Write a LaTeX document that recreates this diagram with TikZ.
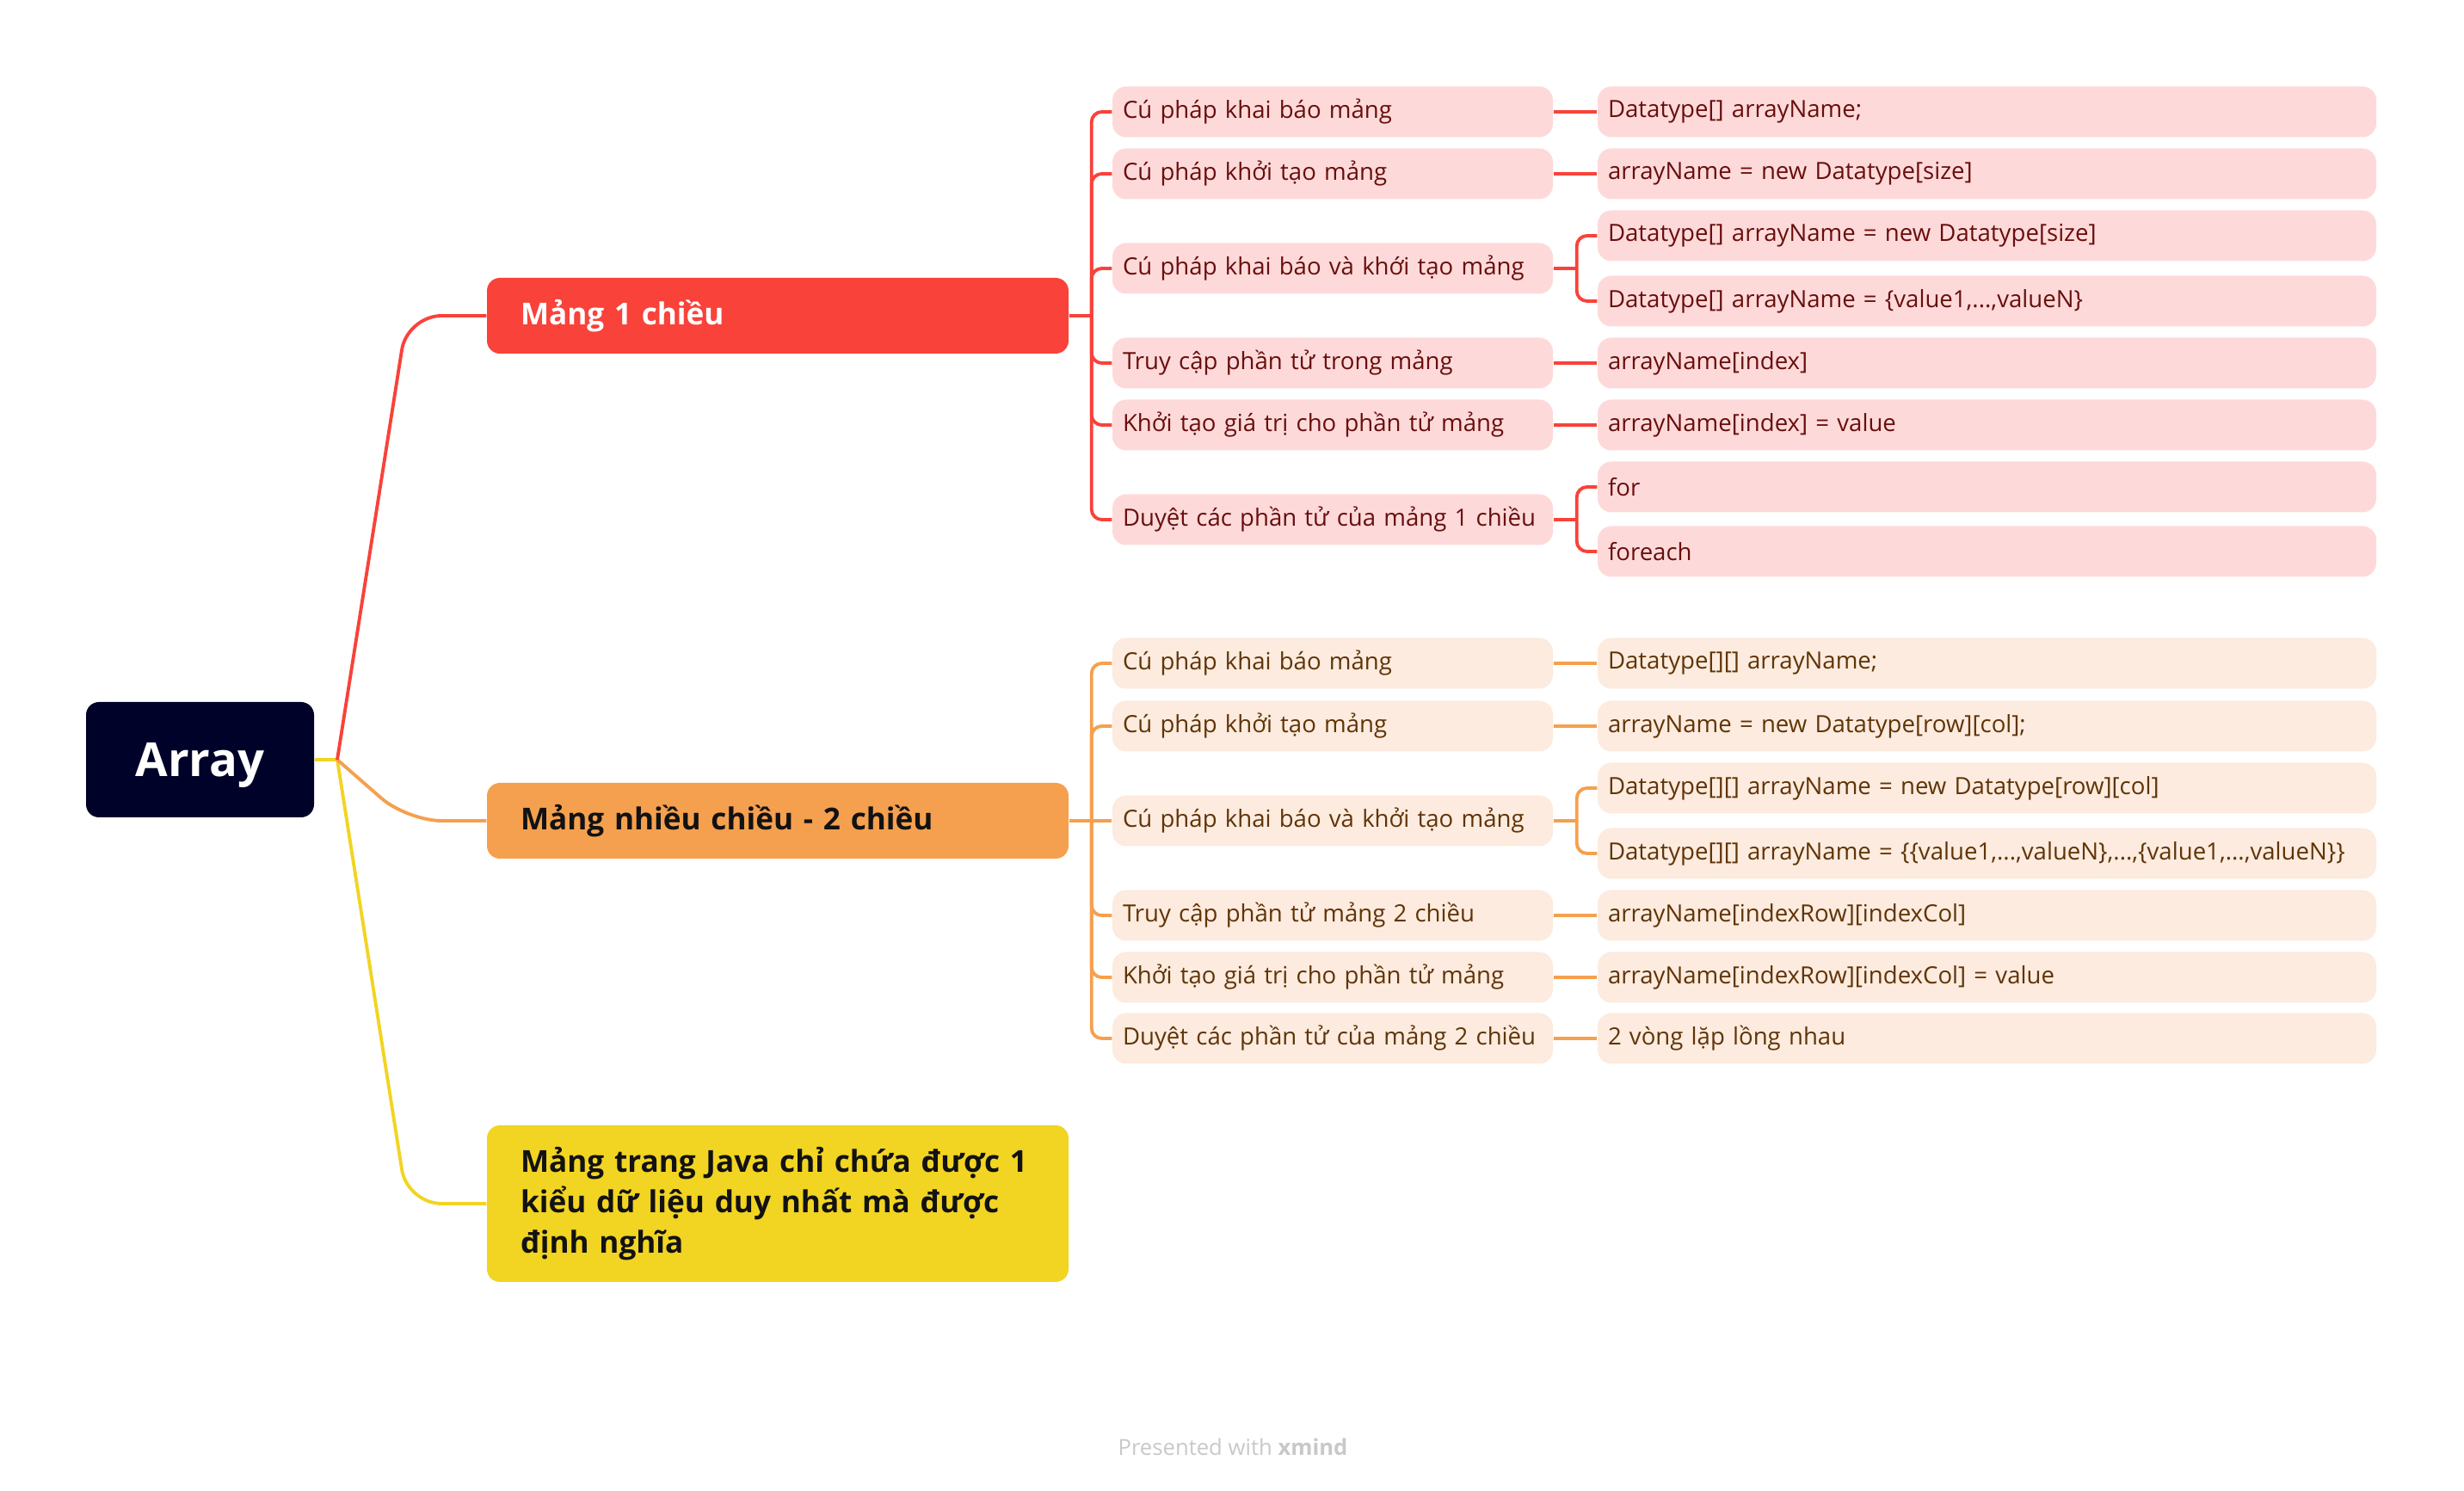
\documentclass[tikz,border=0pt]{standalone}
\usepackage{fontspec}
\setmainfont{Open Sans}
\usepackage{tikz}
\usetikzlibrary{calc}
\definecolor{rootnavy}{RGB}{0,2,41}
\definecolor{redmain}{RGB}{249,66,58}
\definecolor{redlight}{RGB}{253,218,217}
\definecolor{redink}{RGB}{105,14,14}
\definecolor{orangemain}{RGB}{245,160,78}
\definecolor{orangelight}{RGB}{252,235,222}
\definecolor{orangeink}{RGB}{96,52,8}
\definecolor{yellowmain}{RGB}{242,212,34}
\definecolor{topicink}{RGB}{18,18,18}
\definecolor{markgray}{RGB}{200,200,200}
\tikzset{
  rootbox/.style={rectangle, rounded corners=1.5mm, fill=rootnavy, text=white,
                  minimum width=2.65cm, minimum height=1.34cm, text height=0.53cm,
                  font=\fontsize{15.5}{18}\selectfont\bfseries},
  topic/.style  ={rectangle, rounded corners=1.5mm, text width=5.98cm, inner xsep=0.39cm,
                  align=left, minimum height=0.88cm,
                  font=\fontsize{10}{13.4}\selectfont\bfseries},
  sub/.style    ={rectangle, rounded corners=1.6mm, text width=4.88cm, inner xsep=0.12cm,
                  align=left, minimum height=0.59cm, font=\fontsize{7.85}{9.5}\selectfont},
  leaf/.style   ={sub, text width=8.81cm},
  rsub/.style   ={sub, fill=redlight, text=redink},
  rleaf/.style  ={leaf, fill=redlight, text=redink},
  osub/.style   ={sub, fill=orangelight, text=orangeink},
  oleaf/.style  ={leaf, fill=orangelight, text=orangeink},
  rline/.style  ={draw=redmain, line width=1.1pt},
  oline/.style  ={draw=orangemain, line width=1.1pt},
  yline/.style  ={draw=yellowmain, line width=1.1pt}
}

\begin{document}
\begin{tikzpicture}
\useasboundingbox (0,0) rectangle (28.64,17.32);

% Root and the three main topics
\node[rootbox] (root) at (2.325,8.49) {Array};
\coordinate (fork) at (3.92,8.49);
\node[topic, fill=redmain, text=white] (m1) at (9.04,13.65) {Mảng 1 chiều};
\node[topic, fill=orangemain, text=topicink] (m2) at (9.04,7.78) {Mảng nhiều chiều - 2 chiều};
\node[topic, fill=yellowmain, text=topicink, minimum height=1.82cm] (m3) at (9.04,3.33)
  {Mảng trang Java chỉ chứa được 1\\kiểu dữ liệu duy nhất mà được\\định nghĩa};

% Mảng 1 chiều -- sub topics (x=15.49) and leaves (x=23.095)
\node[rsub] (r1) at (15.49,16.02) {Cú pháp khai báo mảng};
\node[rsub] (r2) at (15.49,15.30) {Cú pháp khởi tạo mảng};
\node[rsub] (r3) at (15.49,14.20) {Cú pháp khai báo và khới tạo mảng};
\node[rsub] (r4) at (15.49,13.10) {Truy cập phần tử trong mảng};
\node[rsub] (r5) at (15.49,12.38) {Khởi tạo giá trị cho phần tử mảng};
\node[rsub] (r6) at (15.49,11.28) {Duyệt các phần tử của mảng 1 chiều};

\node[rleaf] (r1v) at (23.095,16.02) {Datatype[] arrayName;};
\node[rleaf] (r2v) at (23.095,15.30) {arrayName = new Datatype[size]};
\node[rleaf] (r3a) at (23.095,14.58) {Datatype[] arrayName = new Datatype[size]};
\node[rleaf] (r3b) at (23.095,13.82) {Datatype[] arrayName = \{value1,...,valueN\}};
\node[rleaf] (r4v) at (23.095,13.10) {arrayName[index]};
\node[rleaf] (r5v) at (23.095,12.38) {arrayName[index] = value};
\node[rleaf] (r6a) at (23.095,11.66) {for};
\node[rleaf] (r6b) at (23.095,10.91) {foreach};

% Mảng nhiều chiều -- sub topics and leaves
\node[osub] (o1) at (15.49,9.61) {Cú pháp khai báo mảng};
\node[osub] (o2) at (15.49,8.88) {Cú pháp khởi tạo mảng};
\node[osub] (o3) at (15.49,7.78) {Cú pháp khai báo và khởi tạo mảng};
\node[osub] (o4) at (15.49,6.68) {Truy cập phần tử mảng 2 chiều};
\node[osub] (o5) at (15.49,5.96) {Khởi tạo giá trị cho phần tử mảng};
\node[osub] (o6) at (15.49,5.25) {Duyệt các phần tử của mảng 2 chiều};

\node[oleaf] (o1v) at (23.095,9.61) {Datatype[][] arrayName;};
\node[oleaf] (o2v) at (23.095,8.88) {arrayName = new Datatype[row][col];};
\node[oleaf] (o3a) at (23.095,8.16) {Datatype[][] arrayName = new Datatype[row][col]};
\node[oleaf] (o3b) at (23.095,7.40) {Datatype[][] arrayName = \{\{value1,...,valueN\},...,\{value1,...,valueN\}\}};
\node[oleaf] (o4v) at (23.095,6.68) {arrayName[indexRow][indexCol]};
\node[oleaf] (o5v) at (23.095,5.96) {arrayName[indexRow][indexCol] = value};
\node[oleaf] (o6v) at (23.095,5.25) {2 vòng lặp lồng nhau};

\node[font=\fontsize{7.3}{9}\selectfont, text=markgray] (mark) at (14.33,0.50)
  {Presented with \textbf{xmind}};

% root -> main topics
\draw[yline] (root.east) -- (fork);
\draw[yline, rounded corners=4mm] (fork) -- ($(m3.west)+(-0.92,0)$) -- (m3.west);
\draw[oline, rounded corners=4mm] (fork) -- ($(m2.west)+(-0.92,0)$) -- (m2.west);
\draw[rline, rounded corners=4mm] (fork) -- ($(m1.west)+(-0.92,0)$) -- (m1.west);

% main topics -> sub topics
\coordinate (rs) at ($(m1.east)+(0.26,0)$);
\draw[rline] (m1.east) -- (rs);
\foreach \c in {r1,r2,r3,r4,r5,r6}{\draw[rline, rounded corners=1.2mm] (rs) |- (\c.west);}
\coordinate (os) at ($(m2.east)+(0.26,0)$);
\draw[oline] (m2.east) -- (o3.west);
\foreach \c in {o1,o2,o4,o5,o6}{\draw[oline, rounded corners=1.2mm] (os) |- (\c.west);}

% sub topics -> leaves
\foreach \a/\b in {r1/r1v,r2/r2v,r4/r4v,r5/r5v}{\draw[rline] (\a.east) -- (\b.west);}
\foreach \a/\b in {o1/o1v,o2/o2v,o4/o4v,o5/o5v,o6/o6v}{\draw[oline] (\a.east) -- (\b.west);}
\coordinate (r3s) at ($(r3.east)+(0.27,0)$);
\coordinate (r6s) at ($(r6.east)+(0.27,0)$);
\coordinate (o3s) at ($(o3.east)+(0.27,0)$);
\draw[rline] (r3.east) -- (r3s);
\draw[rline] (r6.east) -- (r6s);
\draw[oline] (o3.east) -- (o3s);
\foreach \c in {r3a,r3b}{\draw[rline, rounded corners=1.2mm] (r3s) |- (\c.west);}
\foreach \c in {r6a,r6b}{\draw[rline, rounded corners=1.2mm] (r6s) |- (\c.west);}
\foreach \c in {o3a,o3b}{\draw[oline, rounded corners=1.2mm] (o3s) |- (\c.west);}
\end{tikzpicture}
\end{document}
